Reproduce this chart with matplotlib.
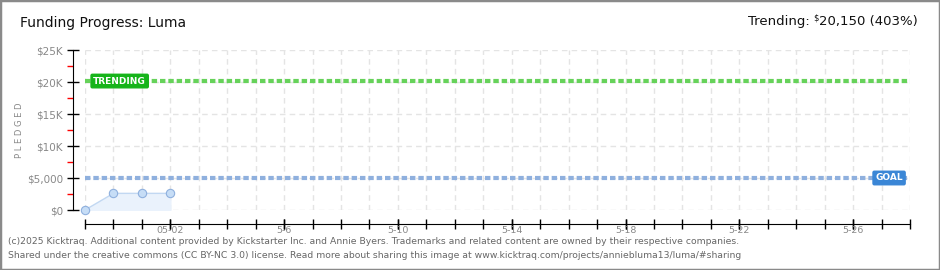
import matplotlib
matplotlib.use('Agg')
import matplotlib.pyplot as plt
import matplotlib.dates as mdates
from matplotlib.patches import Rectangle
import numpy as np
import pandas as pd

# data
days = pd.to_datetime(['2025-04-29', '2025-04-30', '2025-05-01', '2025-05-02'])
pledged = [0, 2600, 2600, 2600]
goal = 5000
trending = 20150
x_start, x_end = pd.Timestamp('2025-04-29'), pd.Timestamp('2025-05-28')
label_dates = pd.to_datetime(['2025-05-02', '2025-05-06', '2025-05-10', '2025-05-14',
                              '2025-05-18', '2025-05-22', '2025-05-26'])
label_text = ['05-02', '5-6', '5-10', '5-14', '5-18', '5-22', '5-26']
y_ticks = [0, 5000, 10000, 15000, 20000, 25000]
y_text = ['$0', '$5,000', '$10K', '$15K', '$20K', '$25K']

W, H = 940, 270
fig = plt.figure(figsize=(W / 100, H / 100), dpi=100)
ax = fig.add_axes([85 / W, (H - 210) / H, (910 - 85) / W, 160 / H])

grey = '#888888'
ax.set_xlim(x_start, x_end)
ax.set_ylim(0, 25000)

# daily ticks + grid (major), labelled dates (minor)
ax.xaxis.remove_overlapping_locs = False
ax.xaxis.set_major_locator(mdates.DayLocator())
ax.xaxis.set_major_formatter(plt.NullFormatter())
ax.set_xticks(label_dates, labels=label_text, minor=True)
ax.grid(True, which='major', color='#e4e4e4', linestyle=(0, (4, 3)), linewidth=1)
ax.set_axisbelow(True)

ax.tick_params(axis='x', which='major', direction='inout', length=7, width=1, color='black')
ax.tick_params(axis='x', which='minor', direction='inout', length=7, width=1, color='black',
               labelsize=6.8, labelcolor=grey, pad=-2)

ax.set_yticks(y_ticks, labels=y_text)
ax.set_yticks(np.arange(2500, 25000, 5000), minor=True)
ax.tick_params(axis='y', which='major', direction='inout', length=8, width=1, color='black',
               labelsize=7.5, labelcolor=grey, pad=3)
ax.tick_params(axis='y', which='minor', direction='out', length=4, width=1, color='red')

for s in ['top', 'right']:
    ax.spines[s].set_visible(False)
ax.spines['left'].set_position(('outward', 9))
ax.spines['bottom'].set_position(('outward', 10))
ax.spines['left'].set_bounds(0, 25000)

# pledged series
ax.fill_between(days, pledged, 0, color='#eaf2fc', zorder=2)
ax.plot(days, pledged, color='#c2d8f2', linewidth=1, zorder=3)
ax.plot(days, pledged, 'o', markersize=6, markerfacecolor='#c6ddf6',
        markeredgecolor='#8fb0de', markeredgewidth=0.8, clip_on=False, zorder=4)

# goal and trending lines
ax.axhline(goal, color='#8fb0de', linewidth=3, linestyle=(0, (1.3, 0.7)), zorder=3)
ax.axhline(trending, color='#66d25a', linewidth=3, linestyle=(0, (1.3, 0.7)), zorder=3)

ax.text(pd.Timestamp('2025-04-29 07:00'), trending, 'TRENDING', color='white', fontsize=6.5,
        fontweight='bold', va='center', ha='left', zorder=5,
        bbox=dict(boxstyle='round,pad=0.25,rounding_size=0.15', fc='#16b41a', ec='#16b41a'))
ax.text(pd.Timestamp('2025-05-27 18:00'), goal, 'GOAL', color='white', fontsize=6.5,
        fontweight='bold', va='center', ha='right', zorder=5,
        bbox=dict(boxstyle='round,pad=0.25,rounding_size=0.15', fc='#3a86d6', ec='#3a86d6'))

# header texts
fig.text(20 / W, 1 - 23 / H, 'Funding Progress: Luma', fontsize=10, color='#111111',
         va='center', ha='left')
t = fig.text(918 / W, 1 - 22 / H, '20,150 (403%)', fontsize=9.5, color='#111111',
             va='center', ha='right')
fig.canvas.draw()
bb = t.get_window_extent()
fig.text((bb.x0 - 1) / W, 1 - 18 / H, '$', fontsize=6, color='#111111', va='center', ha='right')
fig.text((bb.x0 - 10) / W, 1 - 22 / H, 'Trending:', fontsize=9.5, color='#111111',
         va='center', ha='right')
fig.text(20 / W, 1 - 130 / H, 'P L E D G E D', fontsize=6, color=grey, rotation=90,
         va='center', ha='center')

# footer
fig.text(8 / W, 1 - 242 / H,
         '(c)2025 Kicktraq. Additional content provided by Kickstarter Inc. and Annie Byers. '
         'Trademarks and related content are owned by their respective companies.',
         fontsize=6.7, color='#666666', va='center', ha='left')
fig.text(8 / W, 1 - 256 / H,
         'Shared under the creative commons (CC BY-NC 3.0) license. Read more about sharing '
         'this image at www.kicktraq.com/projects/anniebluma13/luma/#sharing',
         fontsize=6.7, color='#666666', va='center', ha='left')

# outer frame
fig.patches.append(Rectangle((0, 0), 1, 1, transform=fig.transFigure, fill=False,
                             edgecolor='#8a8a8a', linewidth=2.5))

fig.savefig('out.png', dpi=100)
